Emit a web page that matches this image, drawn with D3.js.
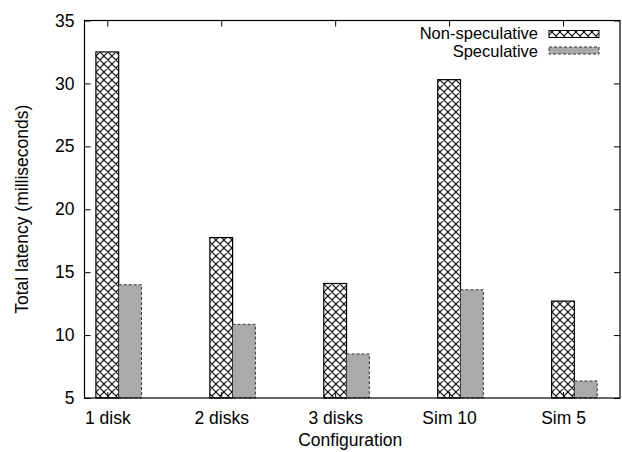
<!DOCTYPE html>
<html><head><meta charset="utf-8">
<script src="https://cdn.jsdelivr.net/npm/d3@7"></script>
<style>body{margin:0;background:#fff}svg{display:block}text{font-family:"Liberation Sans",Arial,Helvetica,sans-serif;}</style>
</head><body>
<svg id="c" width="622" height="452"></svg>
<script>
const categories = ["1 disk","2 disks","3 disks","Sim 10","Sim 5"];
const nonSpeculative = [32.5, 17.75, 14.1, 30.3, 12.7];
const speculative = [14.0, 10.85, 8.5, 13.6, 6.35];
const yTicks = [5,10,15,20,25,30,35];
const seriesNames = ["Non-speculative","Speculative"];

const FS = 17.5;
const svg = d3.select("#c");
const L=84.5, R=620, T=20.5, B=398;
const x = d3.scaleLinear().domain([-0.2,4.5]).range([L,R]);
const y = d3.scaleLinear().domain([5,35]).range([B,T]);
const bw = x(0.2)-x(0);

const defs = svg.append("defs");
const pat = defs.append("pattern").attr("id","xh").attr("patternUnits","userSpaceOnUse")
  .attr("width",8).attr("height",8).attr("x",x(0)-bw/2).attr("y",0);
pat.append("rect").attr("width",8).attr("height",8).attr("fill","#fff");
pat.append("path").attr("d","M0,0L8,8M8,0L0,8M-1,7L1,9M7,-1L9,1M-1,1L1,-1M7,9L9,7").attr("stroke","#000").attr("stroke-width",1.1);

// bars
const g = svg.append("g");
categories.forEach((c,i)=>{
  g.append("rect").attr("x",x(i)-bw/2).attr("y",y(nonSpeculative[i])).attr("width",bw)
    .attr("height",y(5)-y(nonSpeculative[i])).attr("fill","url(#xh)").attr("stroke","#000").attr("stroke-width",1.2);
  g.append("rect").attr("x",x(i+0.2)-bw/2).attr("y",y(speculative[i])).attr("width",bw)
    .attr("height",y(5)-y(speculative[i])).attr("fill","#aaaaaa").attr("stroke","#333").attr("stroke-width",1).attr("stroke-dasharray","3,2");
});

// frame
svg.append("rect").attr("x",L).attr("y",T).attr("width",R-L).attr("height",B-T).attr("fill","none").attr("stroke","#000").attr("stroke-width",1.2);

// y axis
const ya = svg.append("g").attr("transform",`translate(${L},0)`)
  .call(d3.axisLeft(y).tickValues(yTicks).tickSize(-6).tickPadding(10).tickFormat(d3.format("d")));
ya.select(".domain").remove();
ya.selectAll("text").attr("font-size",FS).attr("fill","#000").attr("font-family","Liberation Sans, Arial, sans-serif");
const yr = svg.append("g").attr("transform",`translate(${R},0)`)
  .call(d3.axisRight(y).tickValues(yTicks).tickSize(-6).tickFormat(""));
yr.select(".domain").remove();

// x axis
const xa = svg.append("g").attr("transform",`translate(0,${B})`)
  .call(d3.axisBottom(x).tickValues(d3.range(categories.length)).tickSize(-6).tickPadding(14).tickFormat(i=>categories[i]));
xa.select(".domain").remove();
xa.selectAll("text").attr("font-size",FS).attr("fill","#000").attr("font-family","Liberation Sans, Arial, sans-serif");
const xt = svg.append("g").attr("transform",`translate(0,${T})`)
  .call(d3.axisTop(x).tickValues(d3.range(categories.length)).tickSize(-6).tickFormat(""));
xt.select(".domain").remove();
svg.selectAll(".tick line").attr("stroke","#000");

// axis titles
svg.append("text").attr("x",(L+R)/2-2).attr("y",446).attr("text-anchor","middle").attr("font-size",FS).text("Configuration");
svg.append("text").attr("transform",`translate(28,${(T+B)/2}) rotate(-90)`).attr("text-anchor","middle").attr("font-size",FS).text("Total latency (milliseconds)");

// legend
const leg = [{y:34, ty:38.5, fill:"url(#xh)", stroke:"#000", dash:null},{y:50.5, ty:57, fill:"#aaaaaa", stroke:"#333", dash:"3,2"}];
leg.forEach((d,i)=>{
  svg.append("text").attr("x",538).attr("y",d.ty).attr("text-anchor","end").attr("font-size",16.5).text(seriesNames[i]);
  svg.append("rect").attr("x",549).attr("y",d.y-3.5).attr("width",50).attr("height",7)
    .attr("fill",d.fill).attr("stroke",d.stroke).attr("stroke-width",1).attr("stroke-dasharray",d.dash);
});
</script>
</body></html>
